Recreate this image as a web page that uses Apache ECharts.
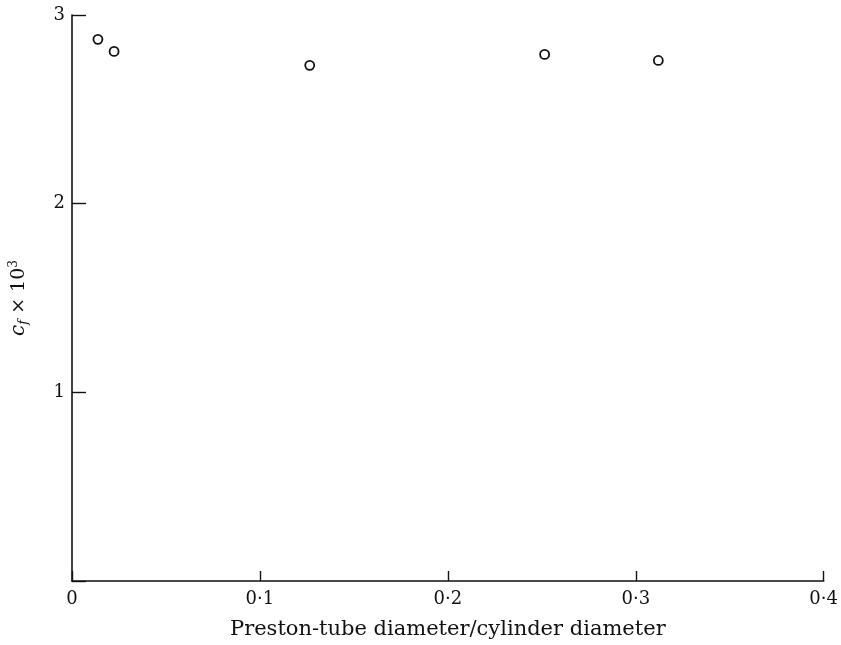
<!DOCTYPE html>
<html>
<head>
<meta charset="utf-8">
<script src="https://cdn.jsdelivr.net/npm/echarts@6/dist/echarts.min.js"></script>
<style>
  html, body { margin: 0; padding: 0; background: #fff; }
  #chart { width: 841px; height: 645px; }
</style>
</head>
<body>
<div id="chart"></div>
<script>
// Preston-tube diameter ratio vs skin-friction coefficient (c_f × 10³)
const diameterRatio = [0.0138, 0.0224, 0.1265, 0.2515, 0.312];
const skinFriction = [2.871, 2.807, 2.733, 2.791, 2.759];
const xTickLabels = ['0', '0·1', '0·2', '0·3', '0·4'];
const yTickLabels = ['', '1', '2', '3'];

const FONT = 'DejaVu Serif';
const chart = echarts.init(document.getElementById('chart'));

chart.setOption({
  animation: false,
  backgroundColor: '#fff',
  grid: { left: 72, right: 14, top: 15, bottom: 63, containLabel: false },
  xAxis: {
    type: 'value',
    min: 0, max: 0.4, interval: 0.1,
    name: 'Preston-tube diameter/cylinder diameter',
    nameLocation: 'middle',
    nameGap: 38,
    nameTextStyle: { fontFamily: FONT, fontSize: 21, color: '#111' },
    axisLine: { show: true, lineStyle: { color: '#111', width: 1.6 } },
    axisTick: { show: true, inside: true, length: 10, lineStyle: { color: '#111', width: 1.4 } },
    axisLabel: {
      margin: 9,
      fontFamily: FONT, fontSize: 18, color: '#111',
      formatter: (v) => xTickLabels[Math.round(v * 10)]
    },
    splitLine: { show: false }
  },
  yAxis: {
    type: 'value',
    min: 0, max: 3, interval: 1,
    name: '{c|c}{f|f} × 10{s|3}',
    nameLocation: 'middle',
    nameRotate: 90,
    nameGap: 42,
    nameTextStyle: {
      fontFamily: FONT, fontSize: 19, color: '#111',
      rich: {
        c: { fontFamily: FONT, fontStyle: 'italic', fontSize: 20, color: '#111' },
        f: { fontFamily: FONT, fontStyle: 'italic', fontSize: 13, color: '#111', verticalAlign: 'bottom', padding: [9, 0, 0, 0] },
        s: { fontFamily: FONT, fontSize: 12, color: '#111', verticalAlign: 'top', padding: [0, 0, 9, 0] }
      }
    },
    axisLine: { show: true, lineStyle: { color: '#111', width: 1.6 } },
    axisTick: { show: true, inside: true, length: 14, lineStyle: { color: '#111', width: 1.4 } },
    axisLabel: {
      margin: 7,
      fontFamily: FONT, fontSize: 18, color: '#111',
      formatter: (v) => yTickLabels[Math.round(v)]
    },
    splitLine: { show: false }
  },
  series: [{
    type: 'scatter',
    data: diameterRatio.map((x, i) => [x, skinFriction[i]]),
    symbol: 'circle',
    symbolSize: 9,
    itemStyle: { color: '#fff', borderColor: '#111', borderWidth: 1.8, opacity: 1 }
  }]
});
</script>
</body>
</html>
